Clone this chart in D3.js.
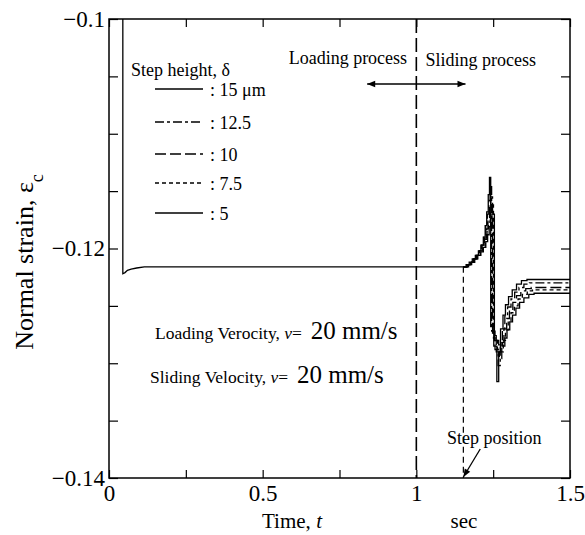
<!DOCTYPE html>
<html>
<head>
  <style>
    body { margin: 0; background: #fff; }
    text { font-family: "Liberation Serif", "Times New Roman", serif; fill: #000; }
    .curve { fill: none; stroke: #000; stroke-width: 1.3; }
  </style>
</head>
<body>
  <svg id="chart" width="585" height="535"></svg>
  <script src="https://d3js.org/d3.v7.min.js"></script>
  <script>
    // tick values / labels
    const xTicks = [0, 0.25, 0.5, 0.75, 1, 1.25, 1.5];
    const xTickLabels = ["0", "", "0.5", "", "1", "", "1.5"];
    const yTicks = [-0.14, -0.135, -0.13, -0.125, -0.12, -0.115, -0.11, -0.105, -0.1];
    const yTickLabels = ["\u22120.14", "", "", "", "\u22120.12", "", "", "", "\u22120.1"];

    const stepHeights = ["15 \u03bcm", "12.5", "10", "7.5", "5"];

    // loading part, common to all step heights: [t, strain]
    const loadingCurve = [
      [0.045, -0.1], [0.045, -0.1222], [0.052, -0.1221], [0.060, -0.1219],
      [0.072, -0.1218], [0.090, -0.1217], [0.115, -0.1216], [1.153, -0.1216]
    ];

    // sliding part, one list per step height
    const slide15 = [
      [1.153, -0.1216], [1.162, -0.1214], [1.172, -0.1212], [1.182, -0.1209], [1.192, -0.1206],
      [1.202, -0.1202], [1.210, -0.1197], [1.218, -0.1190], [1.224, -0.1180], [1.229, -0.1168],
      [1.234, -0.1153], [1.238, -0.1138], [1.242, -0.1268], [1.252, -0.1285], [1.262, -0.1316],
      [1.268, -0.1290], [1.274, -0.1270], [1.282, -0.1258], [1.290, -0.1249], [1.300, -0.1242],
      [1.312, -0.1236], [1.326, -0.1231], [1.342, -0.1228], [1.360, -0.1227], [1.5, -0.1227]
    ];
    const slide12_5 = [
      [1.153, -0.1216], [1.164, -0.1214], [1.174, -0.1212], [1.184, -0.1209], [1.194, -0.1206],
      [1.204, -0.1202], [1.212, -0.1197], [1.220, -0.1190], [1.226, -0.1181], [1.231, -0.1170],
      [1.236, -0.1158], [1.240, -0.1146], [1.245, -0.1272], [1.256, -0.1288], [1.266, -0.1302],
      [1.273, -0.1286], [1.280, -0.1270], [1.288, -0.1259], [1.297, -0.1251], [1.308, -0.1244],
      [1.320, -0.1238], [1.334, -0.1234], [1.350, -0.1231], [1.368, -0.1230], [1.5, -0.1230]
    ];
    const slide10 = [
      [1.153, -0.1216], [1.166, -0.1214], [1.176, -0.1212], [1.186, -0.1209], [1.196, -0.1206],
      [1.206, -0.1202], [1.214, -0.1197], [1.222, -0.1191], [1.228, -0.1183], [1.233, -0.1173],
      [1.238, -0.1162], [1.242, -0.1155], [1.248, -0.1276], [1.260, -0.1290], [1.270, -0.1296],
      [1.278, -0.1282], [1.285, -0.1270], [1.294, -0.1261], [1.303, -0.1254], [1.314, -0.1247],
      [1.326, -0.1241], [1.340, -0.1237], [1.356, -0.1235], [1.374, -0.1234], [1.5, -0.1234]
    ];
    const slide7_5 = [
      [1.153, -0.1216], [1.168, -0.1214], [1.178, -0.1212], [1.188, -0.1209], [1.198, -0.1206],
      [1.208, -0.1202], [1.216, -0.1198], [1.224, -0.1192], [1.230, -0.1185], [1.235, -0.1177],
      [1.240, -0.1168], [1.244, -0.1162], [1.251, -0.1278], [1.264, -0.1288], [1.274, -0.1290],
      [1.283, -0.1280], [1.290, -0.1271], [1.299, -0.1263], [1.308, -0.1256], [1.319, -0.1250],
      [1.331, -0.1244], [1.345, -0.1240], [1.361, -0.1237], [1.378, -0.1236], [1.5, -0.1236]
    ];
    const slide5 = [
      [1.153, -0.1216], [1.170, -0.1214], [1.180, -0.1212], [1.190, -0.1209], [1.200, -0.1206],
      [1.210, -0.1203], [1.218, -0.1199], [1.226, -0.1194], [1.232, -0.1188], [1.237, -0.1181],
      [1.242, -0.1174], [1.246, -0.1170], [1.254, -0.1280], [1.268, -0.1284], [1.279, -0.1285],
      [1.288, -0.1278], [1.295, -0.1271], [1.304, -0.1264], [1.313, -0.1258], [1.324, -0.1252],
      [1.336, -0.1247], [1.350, -0.1243], [1.366, -0.1240], [1.383, -0.1239], [1.5, -0.1239]
    ];
    const slideCurves = [slide15, slide12_5, slide10, slide7_5, slide5];

    const loadEnd = 1.0;       // loading / sliding boundary
    const stepPos = 1.153;     // step position
    const stepPosStrain = -0.1216;

    // styles
    const dashes = ["none", "9,3,3,3", "11,4", "4,3", "none"];

    const margin = {top: 19, right: 15, bottom: 57, left: 109};
    const width = 585 - margin.left - margin.right;
    const height = 535 - margin.top - margin.bottom;

    const svg = d3.select("#chart");
    const g = svg.append("g").attr("transform", `translate(${margin.left},${margin.top})`);

    const x = d3.scaleLinear().domain([0, 1.5]).range([0, width]);
    const y = d3.scaleLinear().domain([-0.14, -0.1]).range([height, 0]);

    g.append("clipPath").attr("id", "clip")
      .append("rect").attr("width", width).attr("height", height);

    // ticks on all four sides, pointing inward
    const tickStyle = sel => {
      sel.select(".domain").remove();
      sel.selectAll(".tick line").attr("stroke", "#000").attr("stroke-width", 1.2);
      sel.selectAll(".tick text").style("font-family", "Liberation Serif, serif").style("font-size", "23px").attr("fill", "#000");
    };
    g.append("g").attr("transform", `translate(0,${height})`)
      .call(d3.axisBottom(x).tickValues(xTicks).tickSize(-8).tickPadding(7)
        .tickFormat((d, i) => xTickLabels[i]))
      .call(tickStyle);
    g.append("g")
      .call(d3.axisTop(x).tickValues(xTicks).tickSize(-8).tickFormat(""))
      .call(tickStyle);
    g.append("g")
      .call(d3.axisLeft(y).tickValues(yTicks).tickSize(-9).tickPadding(4)
        .tickFormat((d, i) => yTickLabels[i]))
      .call(tickStyle);
    g.append("g").attr("transform", `translate(${width},0)`)
      .call(d3.axisRight(y).tickValues(yTicks).tickSize(-9).tickFormat(""))
      .call(tickStyle);

    g.append("rect").attr("width", width).attr("height", height)
      .attr("fill", "none").attr("stroke", "#000").attr("stroke-width", 1.5);

    // curves
    const plot = g.append("g").attr("clip-path", "url(#clip)");
    plot.append("path").datum(loadingCurve).attr("class", "curve")
      .attr("d", d3.line().x(d => x(d[0])).y(d => y(d[1])));
    const stepLine = d3.line().x(d => x(d[0])).y(d => y(d[1])).curve(d3.curveStepAfter);
    slideCurves.forEach((c, i) => {
      plot.append("path").datum(c).attr("class", "curve")
        .attr("stroke-dasharray", dashes[i])
        .attr("d", stepLine);
    });

    // boundary line at t = 1
    g.append("line")
      .attr("x1", x(loadEnd)).attr("x2", x(loadEnd))
      .attr("y1", 0).attr("y2", height)
      .attr("stroke", "#000").attr("stroke-width", 1.6).attr("stroke-dasharray", "14,5");
    // step position line
    g.append("line")
      .attr("x1", x(stepPos)).attr("x2", x(stepPos))
      .attr("y1", y(stepPosStrain)).attr("y2", height)
      .attr("stroke", "#000").attr("stroke-width", 1.2).attr("stroke-dasharray", "6,4");

    // arrow markers
    const defs = svg.append("defs");
    defs.append("marker").attr("id", "head").attr("viewBox", "0 0 10 10")
      .attr("refX", 10).attr("refY", 5).attr("markerWidth", 10).attr("markerHeight", 8)
      .attr("markerUnits", "userSpaceOnUse").attr("orient", "auto-start-reverse")
      .append("path").attr("d", "M0,1 L10,5 L0,9 Z").attr("fill", "#000");

    g.append("line")
      .attr("x1", x(0.84)).attr("x2", x(1.16))
      .attr("y1", 65).attr("y2", 65)
      .attr("stroke", "#000").attr("stroke-width", 1.3)
      .attr("marker-start", "url(#head)").attr("marker-end", "url(#head)");

    g.append("text").attr("x", x(0.97)).attr("y", 45).attr("text-anchor", "end")
      .style("font-size", "18px").text("Loading process");
    g.append("text").attr("x", x(1.03)).attr("y", 47)
      .style("font-size", "18px").text("Sliding process");

    // step position annotation
    g.append("text").attr("x", x(1.1)).attr("y", 425)
      .style("font-size", "18px").text("Step position");
    g.append("line")
      .attr("x1", x(1.208)).attr("y1", 430)
      .attr("x2", x(stepPos)).attr("y2", height - 1)
      .attr("stroke", "#000").attr("stroke-width", 1.3)
      .attr("marker-end", "url(#head)");

    // velocity notes
    const note1 = g.append("text").attr("x", 46).attr("y", 320).style("font-size", "17.5px");
    note1.append("tspan").text("Loading Verocity, ");
    note1.append("tspan").style("font-style", "italic").text("v");
    note1.append("tspan").text("=\u2002");
    note1.append("tspan").style("font-size", "25px").text("20 mm/s");
    const note2 = g.append("text").attr("x", 41).attr("y", 364).style("font-size", "17.5px");
    note2.append("tspan").text("Sliding Velocity, ");
    note2.append("tspan").style("font-style", "italic").text("v");
    note2.append("tspan").text("=\u2002");
    note2.append("tspan").style("font-size", "25px").text("20 mm/s");

    // legend
    const legend = g.append("g").attr("transform", "translate(22,0)");
    legend.append("text").attr("x", 0).attr("y", 57).style("font-size", "18px").text("Step height, \u03b4");
    const rows = legend.selectAll(".row").data(stepHeights).enter().append("g")
      .attr("transform", (d, i) => `translate(0,${[70, 103, 135, 164, 194][i]})`);
    rows.append("line").attr("x1", 24).attr("x2", 72).attr("y1", 0).attr("y2", 0)
      .attr("stroke", "#000").attr("stroke-width", 1.3)
      .attr("stroke-dasharray", (d, i) => dashes[i]);
    rows.append("text").attr("x", 79).attr("y", 7).style("font-size", "18px").text(d => ": " + d);

    // axis titles
    const xt = svg.append("text").attr("x", 292).attr("y", 528).attr("text-anchor", "middle").style("font-size", "21px");
    xt.append("tspan").text("Time, ");
    xt.append("tspan").style("font-style", "italic").text("t");
    svg.append("text").attr("x", 464).attr("y", 528).attr("text-anchor", "middle").style("font-size", "21px").text("sec");

    const yt = svg.append("text").attr("transform", "translate(33,262) rotate(-90)")
      .attr("text-anchor", "middle").style("font-size", "26px");
    yt.append("tspan").text("Normal strain, \u03b5");
    yt.append("tspan").attr("baseline-shift", "sub").style("font-size", "18px").text("c");
  </script>
</body>
</html>
